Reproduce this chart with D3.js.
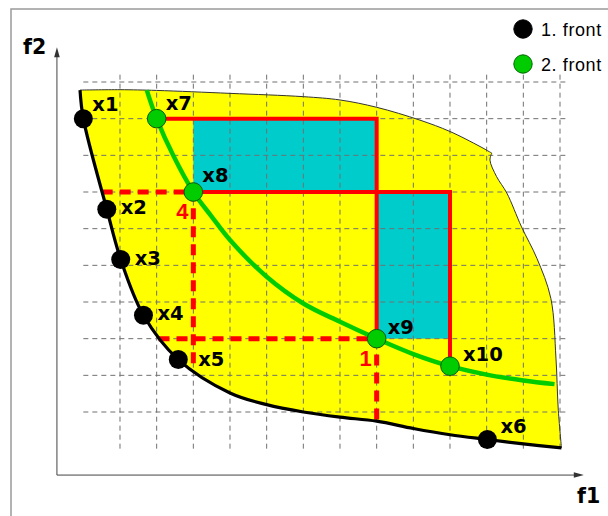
<!DOCTYPE html>
<html>
<head>
<meta charset="utf-8">
<script src="https://cdn.jsdelivr.net/npm/d3@7"></script>
<style>
  html, body { margin: 0; padding: 0; background: #fff; }
  svg { display: block; }
</style>
</head>
<body>
<svg id="chart" width="608" height="516"></svg>
<script>
// Grid line positions along each objective
const gridF1 = [1, 2, 3, 4, 5, 6, 7, 8, 9, 10, 11, 12, 13];
const gridF2 = [1, 2, 3, 4, 5, 6, 7, 8, 9, 10];

// Solutions of the first and second non-dominated fronts
const front1Points = [
  { name: "x1", f1: 0.00, f2: 9.00 },
  { name: "x2", f1: 0.64, f2: 6.53 },
  { name: "x3", f1: 1.02, f2: 5.16 },
  { name: "x4", f1: 1.64, f2: 3.64 },
  { name: "x5", f1: 2.59, f2: 2.43 },
  { name: "x6", f1: 11.02, f2: 0.25 }
];
const front2Points = [
  { name: "x7", f1: 2, f2: 9 },
  { name: "x8", f1: 3, f2: 7 },
  { name: "x9", f1: 8, f2: 3 },
  { name: "x10", f1: 10, f2: 2.25 }
];

// Front curves
const front1Curve = [
  [-0.09, 9.78], [0, 9], [0.64, 6.53], [1.02, 5.16], [1.64, 3.64], [2.59, 2.43],
  [4, 1.52], [5, 1.2], [6, 1.0], [7, 0.86], [8, 0.75], [9, 0.55], [10, 0.38],
  [11.02, 0.25], [12, 0.13], [13.04, 0.02]
];
const front2Curve = [
  [1.73, 9.78], [2, 9], [2.45, 8.0], [3, 7], [3.5, 6.33], [4, 5.69], [5, 4.69],
  [6, 3.96], [7, 3.46], [8, 3.0], [9, 2.58], [10, 2.25], [11, 2.02], [12, 1.86],
  [12.85, 1.76]
];

// Upper and right edge of the objective space
const spaceEdgeUpper = [
  [-0.09, 9.78], [1, 9.79], [2, 9.77], [4, 9.69], [6, 9.6], [7, 9.51], [8, 9.31],
  [9.18, 8.96], [10, 8.65], [10.82, 8.24], [11.14, 8.06]
];
const spaceEdgeRight = [
  [11.14, 8.06], [11.09, 7.87], [11.27, 7.42], [11.55, 6.97], [11.95, 6.05],
  [12.37, 5.19], [12.75, 4.1], [12.89, 2.47], [12.95, 1.11], [13.04, 0.02]
];

// Crowding-distance cuboids (filled part) and their outlines
const cuboidFills = [
  { f1a: 3, f1b: 8, f2a: 7, f2b: 9 },
  { f1a: 8, f1b: 10, f2a: 3, f2b: 7 }
];
const cuboidEdges = [
  [[2, 9], [8, 9], [8, 3]],
  [[3, 7], [10, 7], [10, 2.25]]
];
const projectionLines = [
  [[0.5, 7], [3, 7], [3, 2.2]],
  [[2.05, 3], [8, 3], [8, 0.75]]
];
const rankLabels = [
  { text: "4", at: "x8" },
  { text: "1", at: "x9" }
];

const legendItems = [
  { label: "1. front", color: "#000000", stroke: "#000000" },
  { label: "2. front", color: "#00cc00", stroke: "#006600" }
];

// ---------------------------------------------------------------
const svg = d3.select("#chart");
const x = d3.scaleLinear().domain([0, 13]).range([83.33, 560]);
const y = d3.scaleLinear().domain([0, 10]).range([448.67, 82]);

const YELLOW = "#ffff00", CYAN = "#00cccc", RED = "#ff0000", GREEN = "#00cc00";
const BOLD_FONT = "'DejaVu Sans', Verdana, sans-serif";
const PLAIN_FONT = "'Liberation Sans', Arial, Helvetica, sans-serif";

// outer frame
svg.append("rect")
  .attr("x", 11).attr("y", 9).attr("width", 700).attr("height", 600)
  .attr("fill", "none").attr("stroke", "#9a9a9a").attr("stroke-width", 1.5);

const crLine = d3.line().x(d => x(d[0])).y(d => y(d[1])).curve(d3.curveCatmullRom.alpha(0.5));
const straight = d3.line().x(d => x(d[0])).y(d => y(d[1]));

// objective space region
const regionPath =
  crLine(spaceEdgeUpper) +
  crLine(spaceEdgeRight).replace(/^M/, "L") +
  crLine(front1Curve.slice().reverse()).replace(/^M/, "L") + "Z";
svg.append("path").attr("d", regionPath).attr("fill", YELLOW).attr("stroke", "none");

// cuboid fills
svg.selectAll("rect.cuboid").data(cuboidFills).join("rect")
  .attr("class", "cuboid")
  .attr("x", d => x(d.f1a)).attr("y", d => y(d.f2b))
  .attr("width", d => x(d.f1b) - x(d.f1a)).attr("height", d => y(d.f2a) - y(d.f2b))
  .attr("fill", CYAN);

// dashed grid
const grid = svg.append("g").attr("stroke", "#707070").attr("stroke-width", 1)
  .attr("stroke-dasharray", "5,4").attr("fill", "none");
grid.selectAll("line.v").data(gridF1).join("line").attr("class", "v")
  .attr("x1", d => x(d)).attr("x2", d => x(d))
  .attr("y1", y(0)).attr("y2", y(10.27));
grid.selectAll("line.h").data(gridF2).join("line").attr("class", "h")
  .attr("y1", d => y(d)).attr("y2", d => y(d))
  .attr("x1", x(0)).attr("x2", x(13.25));

// thin edge of the objective space
svg.append("path").attr("d", crLine(spaceEdgeUpper) + crLine(spaceEdgeRight).replace(/^M/, "L"))
  .attr("fill", "none").attr("stroke", "#333").attr("stroke-width", 1);

// axes with arrow heads
const ax0 = -0.72;
const axes = svg.append("g").attr("stroke", "#444").attr("stroke-width", 1);
axes.append("line").attr("x1", x(ax0)).attr("y1", y(ax0)).attr("x2", x(ax0)).attr("y2", y(10.95) + 8);
axes.append("line").attr("x1", x(ax0)).attr("y1", y(ax0)).attr("x2", x(13.65) - 8).attr("y2", y(ax0));
svg.append("path")
  .attr("d", `M${x(ax0)},${y(10.95)} L${x(ax0) - 2.8},${y(10.95) + 10} L${x(ax0) + 2.8},${y(10.95) + 10} Z`)
  .attr("fill", "#333");
svg.append("path")
  .attr("d", `M${x(13.65)},${y(ax0)} L${x(13.65) - 10},${y(ax0) - 2.8} L${x(13.65) - 10},${y(ax0) + 2.8} Z`)
  .attr("fill", "#333");

svg.append("text").attr("x", 23).attr("y", 54).text("f2")
  .attr("font-family", BOLD_FONT).attr("font-weight", "bold").attr("font-size", 20.5)
  .attr("fill", "#000");
svg.append("text").attr("x", 577).attr("y", 503).text("f1")
  .attr("font-family", BOLD_FONT).attr("font-weight", "bold").attr("font-size", 20.5)
  .attr("fill", "#000");

// projections onto the first front
svg.selectAll("path.proj").data(projectionLines).join("path").attr("class", "proj")
  .attr("d", straight).attr("fill", "none").attr("stroke", RED)
  .attr("stroke-width", 5).attr("stroke-dasharray", "11,7");

// cuboid outlines
svg.selectAll("path.cub").data(cuboidEdges).join("path").attr("class", "cub")
  .attr("d", straight).attr("fill", "none").attr("stroke", RED)
  .attr("stroke-width", 4).attr("stroke-linejoin", "miter");

// fronts
svg.append("path").attr("d", crLine(front2Curve)).attr("fill", "none")
  .attr("stroke", GREEN).attr("stroke-width", 4.5);
svg.append("path").attr("d", crLine(front1Curve)).attr("fill", "none")
  .attr("stroke", "#000").attr("stroke-width", 3.2);

// solution points
svg.selectAll("circle.p1").data(front1Points).join("circle").attr("class", "p1")
  .attr("cx", d => x(d.f1)).attr("cy", d => y(d.f2)).attr("r", 9.5).attr("fill", "#000");
svg.selectAll("circle.p2").data(front2Points).join("circle").attr("class", "p2")
  .attr("cx", d => x(d.f1)).attr("cy", d => y(d.f2)).attr("r", 9.3)
  .attr("fill", GREEN).attr("stroke", "#0a5a0a").attr("stroke-width", 1);

// point names
const labelOffset = {
  x1: [9, -8], x2: [14, 5], x3: [14, 6], x4: [14, 5], x5: [20, 6], x6: [13, -7],
  x7: [9, -9], x8: [9, -10], x9: [11, -5], x10: [13, -5]
};
svg.selectAll("text.pname").data(front1Points.concat(front2Points)).join("text")
  .attr("class", "pname")
  .attr("x", d => x(d.f1) + labelOffset[d.name][0])
  .attr("y", d => y(d.f2) + labelOffset[d.name][1])
  .attr("font-family", BOLD_FONT).attr("font-weight", "bold").attr("font-size", 19.5)
  .attr("fill", "#000")
  .text(d => d.name);

// rank numbers next to the cuboid corners
const byName = Object.fromEntries(front2Points.map(d => [d.name, d]));
svg.selectAll("text.rank").data(rankLabels).join("text").attr("class", "rank")
  .attr("x", d => x(byName[d.at].f1) - 11)
  .attr("y", d => y(byName[d.at].f2) + 27)
  .attr("text-anchor", "middle")
  .attr("font-family", PLAIN_FONT).attr("font-weight", "bold").attr("font-size", 22)
  .attr("fill", RED).text(d => d.text);

// legend
const legend = svg.selectAll("g.leg").data(legendItems).join("g").attr("class", "leg")
  .attr("transform", (d, i) => `translate(523, ${29 + i * 35})`);
legend.append("circle").attr("r", 9.2).attr("fill", d => d.color)
  .attr("stroke", d => d.stroke).attr("stroke-width", 1);
legend.append("text").attr("x", 18).attr("y", 7).text(d => d.label)
  .attr("font-family", PLAIN_FONT).attr("font-size", 18).attr("letter-spacing", 0.6)
  .attr("fill", "#000");
</script>
</body>
</html>
